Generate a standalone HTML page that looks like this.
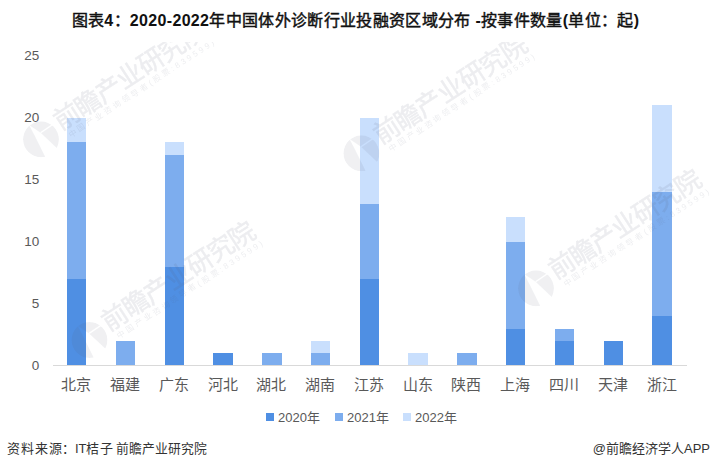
<!DOCTYPE html>
<html lang="zh-CN"><head><meta charset="utf-8"><style>
html,body{margin:0;padding:0;background:#fff;}
body{width:711px;height:469px;position:relative;overflow:hidden;font-family:"Liberation Sans",sans-serif;}
.title b{-webkit-text-stroke:0;}
.title{position:absolute;left:0;width:711px;top:12px;letter-spacing:0.33px;text-align:center;font-size:16px;line-height:18px;font-weight:400;color:#111;-webkit-text-stroke:0.45px #111;white-space:nowrap;}
.yl{position:absolute;left:0;width:39.3px;text-align:right;font-size:13.5px;line-height:18px;color:#595959;}
.cat{position:absolute;top:375.5px;width:60px;text-align:center;font-size:15px;font-weight:300;line-height:18px;color:#595959;}
.leg{position:absolute;top:409px;font-size:13px;line-height:18px;color:#595959;white-space:nowrap;}
.src{position:absolute;top:439.5px;font-size:13px;line-height:18px;color:#333;white-space:nowrap;}
svg{position:absolute;left:0;top:0;}
</style></head><body>
<div class="title">图表<b>4</b>：<b>2020-2022</b>年中国体外诊断行业投融资区域分布<b> -</b>按事件数量<b>(</b>单位：起<b>)</b></div>
<svg width="711" height="469" shape-rendering="crispEdges">
<rect x="67" y="279" width="19" height="86" fill="#4F8FE3"/><rect x="67" y="142" width="19" height="137" fill="#7DADEE"/><rect x="67" y="118" width="19" height="24" fill="#C9DFFD"/><rect x="116" y="341" width="19" height="24" fill="#7DADEE"/><rect x="165" y="267" width="19" height="98" fill="#4F8FE3"/><rect x="165" y="155" width="19" height="112" fill="#7DADEE"/><rect x="165" y="142" width="19" height="13" fill="#C9DFFD"/><rect x="213" y="353" width="20" height="12" fill="#4F8FE3"/><rect x="262" y="353" width="20" height="12" fill="#7DADEE"/><rect x="311" y="353" width="19" height="12" fill="#7DADEE"/><rect x="311" y="341" width="19" height="12" fill="#C9DFFD"/><rect x="360" y="279" width="19" height="86" fill="#4F8FE3"/><rect x="360" y="204" width="19" height="75" fill="#7DADEE"/><rect x="360" y="118" width="19" height="86" fill="#C9DFFD"/><rect x="408" y="353" width="20" height="12" fill="#C9DFFD"/><rect x="457" y="353" width="20" height="12" fill="#7DADEE"/><rect x="506" y="329" width="19" height="36" fill="#4F8FE3"/><rect x="506" y="242" width="19" height="87" fill="#7DADEE"/><rect x="506" y="217" width="19" height="25" fill="#C9DFFD"/><rect x="555" y="341" width="19" height="24" fill="#4F8FE3"/><rect x="555" y="329" width="19" height="12" fill="#7DADEE"/><rect x="604" y="341" width="19" height="24" fill="#4F8FE3"/><rect x="652" y="316" width="20" height="49" fill="#4F8FE3"/><rect x="652" y="192" width="20" height="124" fill="#7DADEE"/><rect x="652" y="105" width="20" height="87" fill="#C9DFFD"/>
<rect x="52.5" y="365" width="634" height="1" fill="#D9D9D9"/>
</svg>
<div class="yl" style="top:357.0px">0</div><div class="yl" style="top:295.1px">5</div><div class="yl" style="top:233.1px">10</div><div class="yl" style="top:171.1px">15</div><div class="yl" style="top:109.2px">20</div><div class="yl" style="top:47.2px">25</div>
<div class="cat" style="left:46.3px">北京</div><div class="cat" style="left:95.1px">福建</div><div class="cat" style="left:143.8px">广东</div><div class="cat" style="left:192.6px">河北</div><div class="cat" style="left:241.4px">湖北</div><div class="cat" style="left:290.1px">湖南</div><div class="cat" style="left:338.9px">江苏</div><div class="cat" style="left:387.7px">山东</div><div class="cat" style="left:436.4px">陕西</div><div class="cat" style="left:485.2px">上海</div><div class="cat" style="left:534.0px">四川</div><div class="cat" style="left:582.8px">天津</div><div class="cat" style="left:631.5px">浙江</div>
<i style="position:absolute;left:266px;top:413px;width:8px;height:8px;background:#4F8FE3"></i>
<div class="leg" style="left:278px">2020年</div>
<i style="position:absolute;left:335px;top:413px;width:8px;height:8px;background:#7DADEE"></i>
<div class="leg" style="left:347px">2021年</div>
<i style="position:absolute;left:403px;top:413px;width:8px;height:8px;background:#C9DFFD"></i>
<div class="leg" style="left:415px">2022年</div>
<div class="src" style="left:7.3px;font-size:13px;letter-spacing:0.8px">资料来源：</div>
<div class="src" style="left:75px">IT</div>
<div class="src" style="left:86.4px;font-size:13px">桔</div>
<div class="src" style="left:100px;font-size:13px">子</div>
<div class="src" style="left:116.2px;font-size:12.8px">前瞻产业研究院</div>
<div class="src" style="right:1px">@前瞻经济学人APP</div>
<svg width="711" height="469" style="pointer-events:none">
<defs><mask id="lm" maskUnits="userSpaceOnUse" x="-30" y="-30" width="60" height="60">
<circle r="18" fill="#fff"/>
<path d="M-13,-15 L-0.4,-6.6 L15.2,8.1 L24,16 L6,26 L3.9,16.9 L-6,-3 L-11.5,-13.5 Z" fill="#000"/>
<path d="M-0.4,-6.6 L15,-17" stroke="#000" stroke-width="1.3" fill="none"/>
</mask><clipPath id="wc"><rect x="0" y="42" width="711" height="427"/></clipPath></defs>
<g clip-path="url(#wc)" fill="#5a6078" opacity="0.11" font-family="Liberation Sans, sans-serif">
<g transform="translate(41,139.3)">
<circle r="18" mask="url(#lm)" fill-opacity="0.8"/>
<g transform="rotate(-33)">
<text x="21" y="4" font-size="26" stroke="#5a6078" stroke-width="0.5" textLength="177" lengthAdjust="spacing">前瞻产业研究院</text>
<text x="25.5" y="15" font-size="8" textLength="172" lengthAdjust="spacing">中国产业咨询领导者(股票:839599)</text>
</g></g><g transform="translate(361.4,153.3)">
<circle r="18" mask="url(#lm)" fill-opacity="0.8"/>
<g transform="rotate(-33)">
<text x="21" y="4" font-size="26" stroke="#5a6078" stroke-width="0.5" textLength="177" lengthAdjust="spacing">前瞻产业研究院</text>
<text x="25.5" y="15" font-size="8" textLength="172" lengthAdjust="spacing">中国产业咨询领导者(股票:839599)</text>
</g></g><g transform="translate(536,288.3)">
<circle r="18" mask="url(#lm)" fill-opacity="0.8"/>
<g transform="rotate(-33)">
<text x="21" y="4" font-size="26" stroke="#5a6078" stroke-width="0.5" textLength="177" lengthAdjust="spacing">前瞻产业研究院</text>
<text x="25.5" y="15" font-size="8" textLength="172" lengthAdjust="spacing">中国产业咨询领导者(股票:839599)</text>
</g></g><g transform="translate(89.5,340)">
<circle r="18" mask="url(#lm)" fill-opacity="0.8"/>
<g transform="rotate(-33)">
<text x="21" y="4" font-size="26" stroke="#5a6078" stroke-width="0.5" textLength="177" lengthAdjust="spacing">前瞻产业研究院</text>
<text x="25.5" y="15" font-size="8" textLength="172" lengthAdjust="spacing">中国产业咨询领导者(股票:839599)</text>
</g></g>
</g></svg>
</body></html>
